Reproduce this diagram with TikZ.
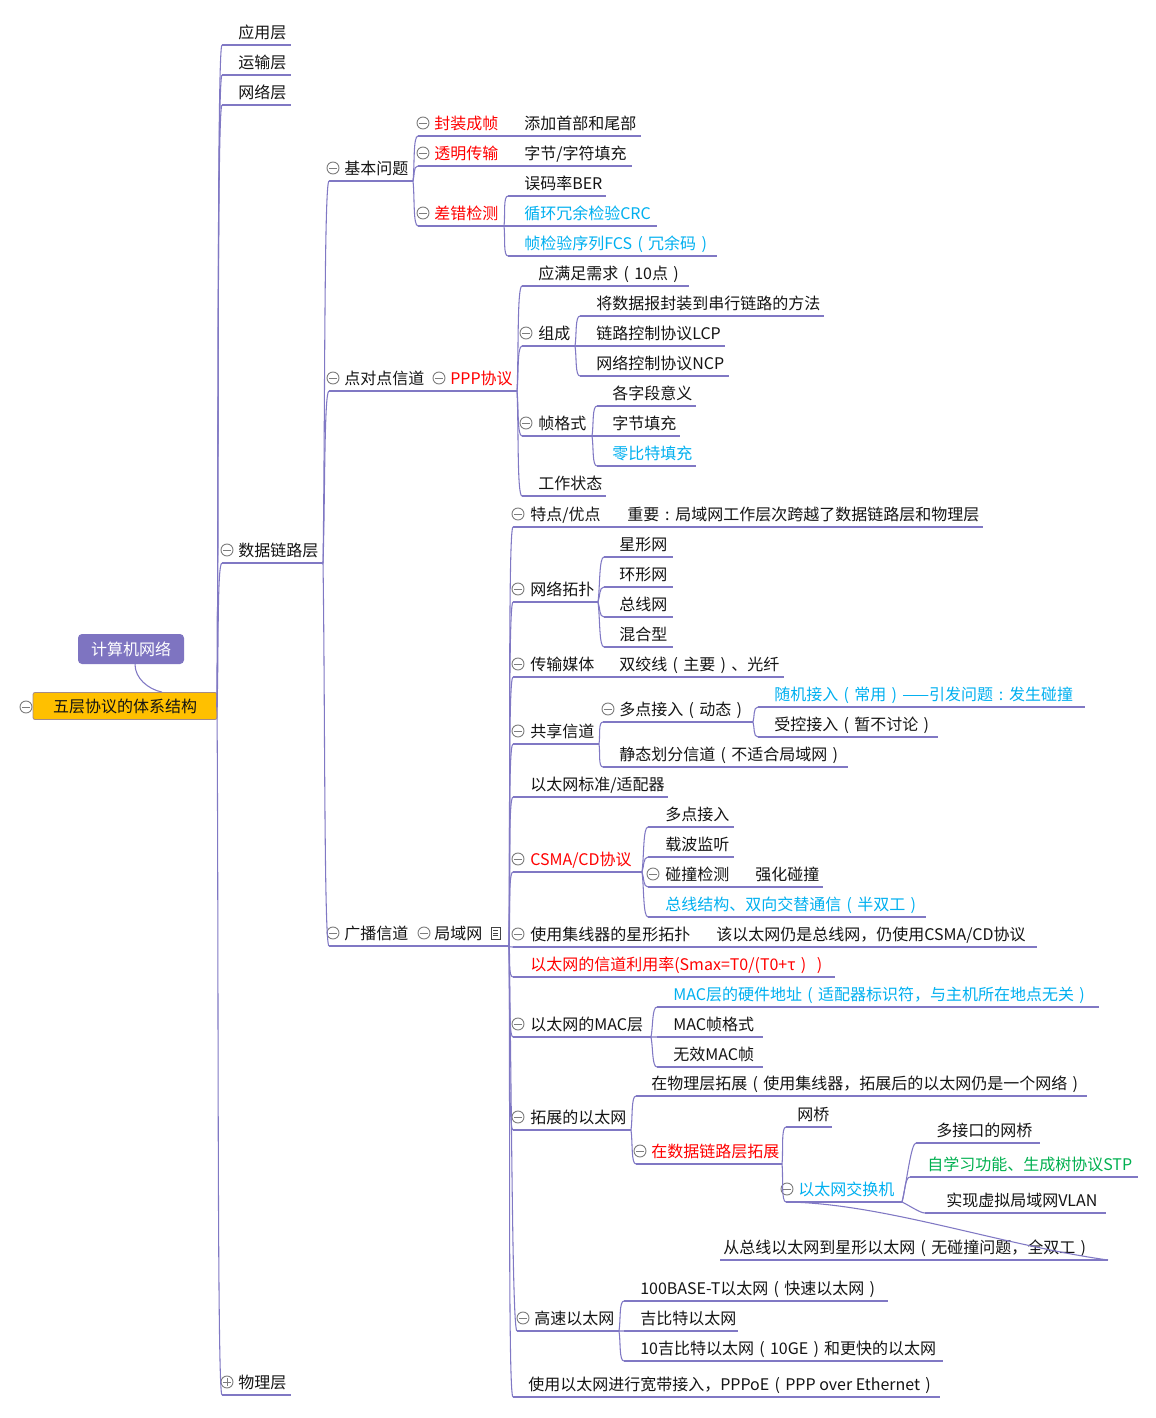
\documentclass[tikz,border=0pt]{standalone}
\usepackage{fontspec}
\setmainfont{Noto Sans CJK SC}
\usetikzlibrary{calc}
\definecolor{lnc}{RGB}{128,120,196}
\definecolor{redc}{RGB}{255,0,0}
\definecolor{bluec}{RGB}{0,176,240}
\definecolor{greenc}{RGB}{0,176,80}
\definecolor{goldc}{RGB}{255,192,0}
\definecolor{purc}{RGB}{126,116,193}
\definecolor{icoc}{RGB}{125,125,125}
\definecolor{txc}{RGB}{20,20,20}
\newcommand\zlp{\makebox[1em]{(}}
\newcommand\zrp{\makebox[1em]{)}}
\newcommand\zcl{\makebox[1em]{:}}
\tikzset{
  topictext/.style={anchor=west, inner sep=0pt, text height=10.6pt, text depth=1.4pt,
    font=\fontsize{12pt}{14pt}\selectfont, text=txc},
  redt/.style={text=redc},
  bluet/.style={text=bluec},
  greent/.style={text=greenc},
  uline/.style={draw=lnc, line width=0.8pt},
  iconline/.style={draw=icoc, line width=0.7pt},
}
\newcommand\mtopic[7][]{%
  \node[topictext,#1] (#2) at (#3,#4) {#7};
  \coordinate (#2-s) at (#5,#4+13);
  \coordinate (#2-e) at (#6,#4+13);
  \draw[uline] (#2-s) -- (#2-e);
}
\newcommand\mlink[2]{\draw[uline] (#1-e) .. controls ($(#1-e)!0.35!(#2-s)$) and ($(#2-s)+(-5,0)$) .. (#2-s);}
\newcommand\mminus[2]{\draw[iconline] (#1,#2) circle[radius=4.5pt]; \draw[iconline] (#1-3.8,#2) -- (#1+3.8,#2);}
\newcommand\mplus[2]{\draw[iconline] (#1,#2) circle[radius=4.5pt]; \draw[iconline] (#1-3.8,#2) -- (#1+3.8,#2); \draw[iconline] (#1,#2-3.8) -- (#1,#2+3.8);}
\begin{document}
\begin{tikzpicture}[x=0.75pt,y=-0.75pt]
\fill[white] (0,0) rectangle (1156,1418);
\useasboundingbox (0,0) rectangle (1156,1418);

% central topics
\node[draw=purc!70!goldc, fill=goldc, rounded corners=1.5pt, line width=0.6pt,
  minimum width=138pt, minimum height=20.25pt, inner sep=0pt,
  font=\fontsize{12pt}{14pt}\selectfont, text=txc] (root) at (125,706) {五层协议的体系结构};
\coordinate (root-e) at (217,707);
\mminus{26}{707}
\node[fill=purc, rounded corners=3pt, minimum width=79.5pt, minimum height=22.5pt, inner sep=0pt,
  font=\fontsize{12pt}{14pt}\selectfont, text=white] (cn) at (131,649) {计算机网络};
\draw[uline] ($(cn.south)+(4,0)$) .. controls +(0,14) and +(-14,-3) .. ($(root.north)+(37,0)$);

% level 1
\mtopic{yy}{238}{32}{222}{291}{应用层}
\mtopic{ys}{238}{62}{222}{291}{运输层}
\mtopic{wl}{238}{92}{222}{291}{网络层}
\mtopic{sj}{238}{550}{222}{323}{数据链路层} \mminus{227}{550}
\mtopic{wu}{238}{1382}{222}{291}{物理层} \mplus{227}{1382}
\foreach \c in {yy,ys,wl,sj,wu} {\mlink{root}{\c}}

% level 2
\mtopic{jb}{344}{168}{329}{413}{基本问题} \mminus{333}{168}
\mtopic{dd}{344}{378}{329}{432}{点对点信道} \mminus{333}{378}
\mtopic{gb}{344}{933}{329}{415}{广播信道} \mminus{333}{933}
\foreach \c in {jb,dd,gb} {\mlink{sj}{\c}}
\mtopic[redt]{ppp}{450}{378}{432}{517}{PPP协议} \mminus{439}{378}
\mtopic{jy}{434}{933}{415}{509}{局域网} \mminus{424}{933}
% note icon
\draw[draw=txc!80, line width=0.5pt] (491,927) rectangle (500,939);
\foreach \yy in {930.5,933,935.5} {\draw[draw=txc!80, line width=0.5pt] (493,\yy) -- (498,\yy);}

% basic problems
\mtopic[redt]{fz}{434}{123}{418}{512}{封装成帧} \mminus{423}{123}
\mtopic{tj}{524}{123}{512}{641}{添加首部和尾部}
\mtopic[redt]{tm}{434}{153}{418}{512}{透明传输} \mminus{423}{153}
\mtopic{zf}{524}{153}{512}{632}{字节/字符填充}
\mtopic[redt]{cc}{434}{213}{418}{504}{差错检测} \mminus{423}{213}
\foreach \c in {fz,tm,cc} {\mlink{jb}{\c}}
\mtopic{ber}{524}{183}{508}{606}{误码率BER}
\mtopic[bluet]{crc}{524}{213}{508}{657}{循环冗余检验CRC}
\mtopic[bluet]{fcs}{524}{243}{508}{717}{帧检验序列FCS\zlp 冗余码\zrp}
\foreach \c in {ber,crc,fcs} {\mlink{cc}{\c}}

% PPP
\mtopic{yq}{538}{273}{522}{689}{应满足需求\zlp 10点\zrp}
\mtopic{zc}{538}{333}{522}{575}{组成} \mminus{526}{333}
\mtopic{zg}{538}{423}{522}{592}{帧格式} \mminus{526}{423}
\mtopic{gzz}{538}{483}{522}{606}{工作状态}
\foreach \c in {yq,zc,zg,gzz} {\mlink{ppp}{\c}}
\mtopic{fzc}{596}{303}{580}{824}{将数据报封装到串行链路的方法}
\mtopic{lcp}{596}{333}{580}{725}{链路控制协议LCP}
\mtopic{ncp}{596}{363}{580}{729}{网络控制协议NCP}
\foreach \c in {fzc,lcp,ncp} {\mlink{zc}{\c}}
\mtopic{gz}{612}{393}{597}{696}{各字段意义}
\mtopic{zjt}{612}{423}{597}{680}{字节填充}
\mtopic[bluet]{lb}{612}{453}{597}{696}{零比特填充}
\foreach \c in {gz,zjt,lb} {\mlink{zg}{\c}}

% LAN
\mtopic{td}{530}{514}{513}{612}{特点/优点} \mminus{518}{514}
\mtopic{zy}{627}{514}{612}{983}{重要\zcl 局域网工作层次跨越了数据链路层和物理层}
\mtopic{tp}{530}{589}{513}{598}{网络拓扑} \mminus{518}{589}
\mtopic{xx}{619}{544}{604}{673}{星形网}
\mtopic{hx}{619}{574}{604}{673}{环形网}
\mtopic{zx}{619}{604}{604}{673}{总线网}
\mtopic{hh}{619}{634}{604}{673}{混合型}
\foreach \c in {xx,hx,zx,hh} {\mlink{tp}{\c}}
\mtopic{cm}{530}{664}{513}{606}{传输媒体} \mminus{518}{664}
\mtopic{sjx}{619}{664}{606}{784}{双绞线\zlp 主要\zrp 、光纤}
\mtopic{gx}{530}{731}{513}{599}{共享信道} \mminus{518}{731}
\mtopic{dj}{619}{709}{603}{753}{多点接入\zlp 动态\zrp} \mminus{608}{709}
\mtopic{jt}{619}{754}{603}{848}{静态划分信道\zlp 不适合局域网\zrp}
\foreach \c in {dj,jt} {\mlink{gx}{\c}}
\mtopic[bluet]{sjr}{774}{694}{758}{1085}{随机接入\zlp 常用\zrp ——引发问题\zcl 发生碰撞}
\mtopic{skr}{774}{724}{758}{938}{受控接入\zlp 暂不讨论\zrp}
\foreach \c in {sjr,skr} {\mlink{dj}{\c}}
\mtopic{bz}{530}{784}{513}{668}{以太网标准/适配器}
\mtopic[redt]{cs}{530}{859}{513}{642}{CSMA/CD协议} \mminus{518}{859}
\mtopic{djb}{665}{814}{648}{734}{多点接入}
\mtopic{zb}{665}{844}{648}{734}{载波监听}
\mtopic{pz}{665}{874}{648}{745}{碰撞检测} \mminus{653}{874}
\mtopic{qh}{755}{874}{745}{823}{强化碰撞}
\mtopic[bluet]{zj}{665}{904}{648}{926}{总线结构、双向交替通信\zlp 半双工\zrp}
\foreach \c in {djb,zb,pz,zj} {\mlink{cs}{\c}}
\mtopic{jx}{530}{934}{513}{703}{使用集线器的星形拓扑} \mminus{518}{934}
\mtopic{gy}{716}{934}{703}{1037}{该以太网仍是总线网，仍使用CSMA/CD协议}
\mtopic[redt]{ly}{530}{964}{513}{835}{以太网的信道利用率(Smax=T0/(T0+τ\zrp\zrp}
\mtopic{mac}{530}{1024}{513}{651}{以太网的MAC层} \mminus{518}{1024}
\mtopic[bluet]{yj}{673}{994}{657}{1099}{MAC层的硬件地址\zlp 适配器标识符，与主机所在地点无关\zrp}
\mtopic{mz}{673}{1024}{657}{763}{MAC帧格式}
\mtopic{wx}{673}{1054}{657}{763}{无效MAC帧}
\foreach \c in {yj,mz,wx} {\mlink{mac}{\c}}
\mtopic{tz}{530}{1117}{513}{631}{拓展的以太网} \mminus{518}{1117}
\mtopic{wlt}{651}{1083}{636}{1087}{在物理层拓展\zlp 使用集线器，拓展后的以太网仍是一个网络\zrp}
\mtopic[redt]{sjt}{651}{1151}{636}{782}{在数据链路层拓展} \mminus{640}{1151}
\foreach \c in {wlt,sjt} {\mlink{tz}{\c}}
\mtopic{wq}{797}{1114}{786}{832}{网桥}
\mtopic[bluet]{jh}{798}{1189}{786}{902}{以太网交换机} \mminus{787}{1189}
\foreach \c in {wq,jh} {\mlink{sjt}{\c}}
\mtopic{dk}{936}{1130}{916}{1040}{多接口的网桥}
\mtopic[greent]{stp}{927}{1164}{910}{1138}{自学习功能、生成树协议STP}
\mtopic{vl}{946}{1200}{925}{1106}{实现虚拟局域网VLAN}
\foreach \c in {dk,stp,vl} {\mlink{jh}{\c}}
\mtopic{cz}{723}{1247}{1108}{720}{从总线以太网到星形以太网\zlp 无碰撞问题，全双工\zrp}
\draw[uline] (jh-s) .. controls +(96,1) and +(-108,-15) .. (cz-s);
\mtopic{gs}{534}{1318}{517}{619}{高速以太网} \mminus{523}{1318}
\mtopic{bt}{640}{1288}{624}{888}{100BASE-T以太网\zlp 快速以太网\zrp}
\mtopic{jbt}{640}{1318}{624}{738}{吉比特以太网}
\mtopic{sjb}{640}{1348}{624}{943}{10吉比特以太网\zlp 10GE\zrp 和更快的以太网}
\foreach \c in {bt,jbt,sjb} {\mlink{gs}{\c}}
\mtopic{pe}{528}{1384}{513}{940}{使用以太网进行宽带接入，PPPoE\zlp PPP over Ethernet\zrp}
\foreach \c in {td,tp,cm,gx,bz,cs,jx,ly,mac,tz,gs,pe} {\mlink{jy}{\c}}
\end{tikzpicture}
\end{document}
